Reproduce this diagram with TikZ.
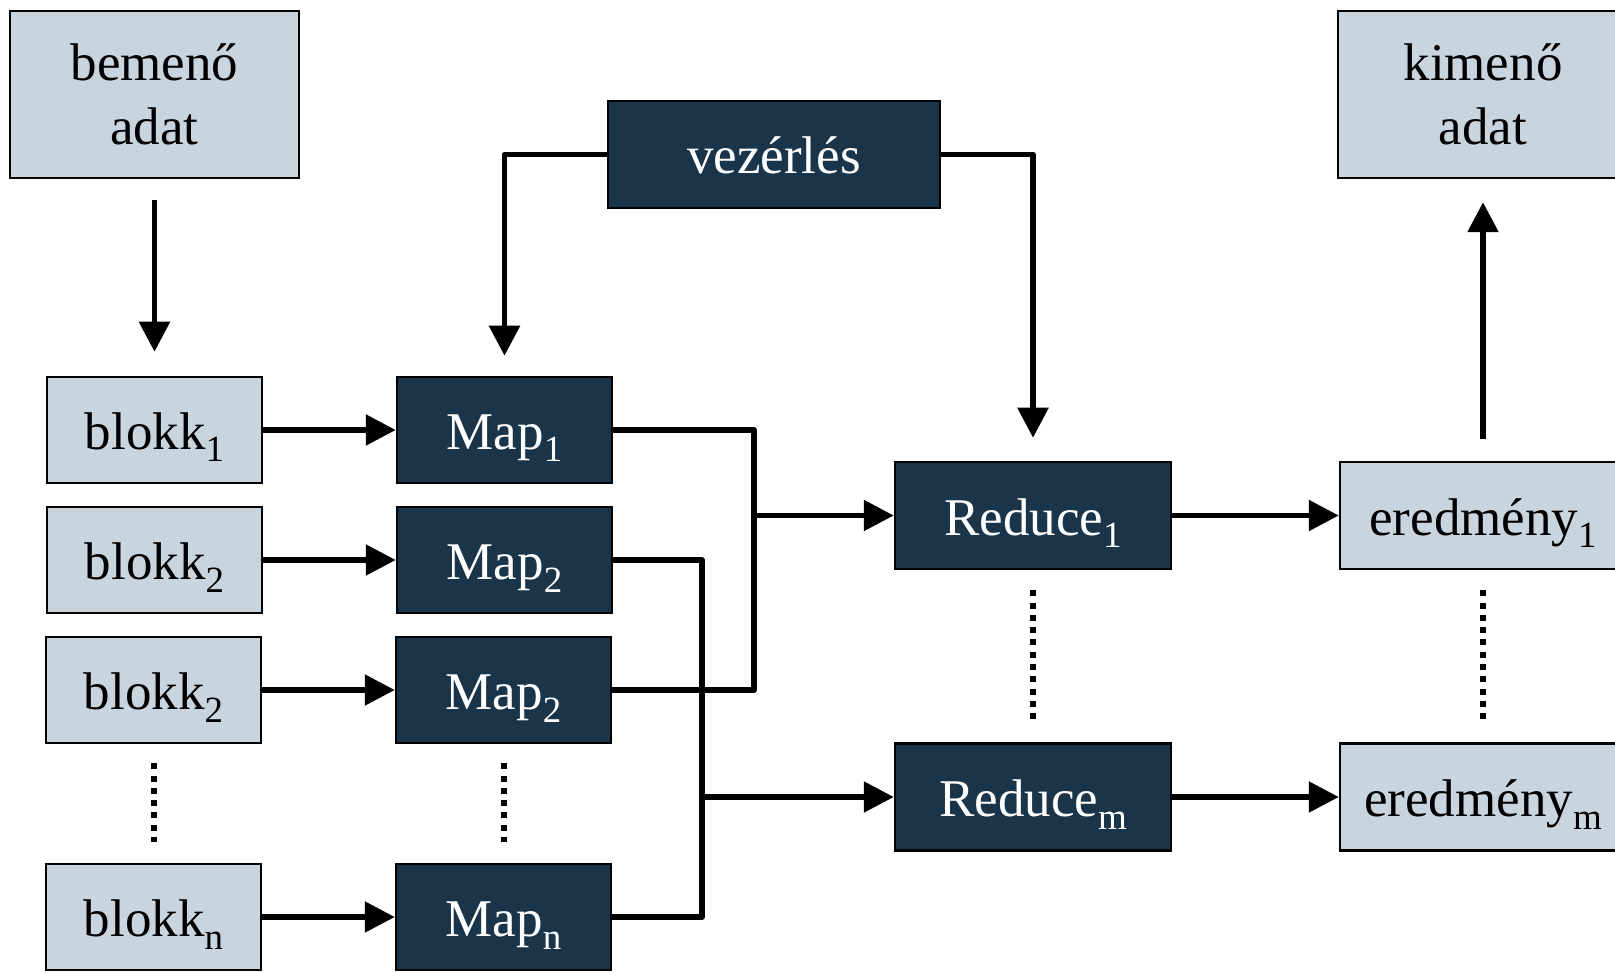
\documentclass[tikz,border=0pt]{standalone}
\usepackage{fontspec}
\setmainfont{Liberation Serif}
\usetikzlibrary{arrows.meta}
\definecolor{darkbox}{HTML}{1A3549}
\definecolor{lightbox}{HTML}{C8D5DE}
\newcommand{\sbs}[1]{\raisebox{-12.5pt}{\fontsize{37}{37}\selectfont #1}}
\tikzset{
  box/.style={draw=black, line width=2.5pt, inner sep=0pt, font=\fontsize{53}{64}\selectfont},
  oneline/.style={text height=39pt, text depth=0pt},
  lbox/.style={box, fill=lightbox, text=black},
  dbox/.style={box, fill=darkbox, text=white},
  smallbox/.style={minimum width=215pt, minimum height=106pt, oneline},
  redbox/.style={minimum width=276pt, minimum height=107pt, oneline},
  resbox/.style={minimum width=286pt, minimum height=107pt, oneline},
  bigbox/.style={minimum width=290pt, minimum height=167pt, align=center},
  arr/.style={line width=5.5pt, line join=round, -{Triangle[length=30pt,width=30pt]}},
  ln/.style={line width=5.5pt, line join=round},
  dots/.style={line width=6pt, dash pattern=on 6pt off 6.3pt}
}
\begin{document}
\begin{tikzpicture}[x=1pt,y=-1pt]
\clip (0,0) rectangle (1615,973);
\fill[white] (0,0) rectangle (1615,973);
% top row
\node[lbox, bigbox, minimum width=289pt] (bem) at (154.5,94.5) {bemenő\\adat};
\node[dbox, oneline, minimum width=332pt, minimum height=107pt] (vez) at (774,154.5) {vezérlés};
\node[lbox, bigbox] (kim) at (1483,94.5) {kimenő\\adat};
% blocks
\node[lbox, smallbox] (b1) at (154.5,430) {blokk\sbs{1}};
\node[lbox, smallbox] (b2) at (154.5,560) {blokk\sbs{2}};
\node[lbox, smallbox] (b3) at (153.5,690) {blokk\sbs{2}};
\node[lbox, smallbox] (bn) at (153.5,917) {blokk\sbs{n}};
% maps
\node[dbox, smallbox] (m1) at (504.5,430) {Map\sbs{1}};
\node[dbox, smallbox] (m2) at (504.5,560) {Map\sbs{2}};
\node[dbox, smallbox] (m3) at (503.5,690) {Map\sbs{2}};
\node[dbox, smallbox] (mn) at (503.5,917) {Map\sbs{n}};
% reduces
\node[dbox, redbox] (r1) at (1033,515.5) {Reduce\sbs{1}};
\node[dbox, redbox] (rm) at (1033,797) {Reduce\sbs{m}};
% results
\node[lbox, resbox] (e1) at (1483,515.5) {eredmény\sbs{1}};
\node[lbox, resbox] (em) at (1483,797) {eredmény\sbs{m}};
% bus junctions
\coordinate (j1) at (754,515.5);
\coordinate (j2) at (702,797);
% connectors
\draw[arr, shorten <=21pt, shorten >=24pt] (bem.south) -- (b1.north);
\draw[arr, shorten >=20pt] (vez.west) -| (m1.north);
\draw[arr, shorten >=23pt] (vez.east) -| (r1.north);
\draw[arr] (b1) -- (m1);
\draw[arr] (b2) -- (m2);
\draw[arr] (b3) -- (m3);
\draw[arr] (bn) -- (mn);
\draw[ln] (m1.east) -| (j1) |- (m3.east);
\draw[arr] (j1) -- (r1.west);
\draw[ln] (m2.east) -| (j2) |- (mn.east);
\draw[arr] (j2) -- (rm.west);
\draw[arr] (r1) -- (e1);
\draw[arr] (rm) -- (em);
\draw[arr, shorten <=22pt, shorten >=23pt] (e1.north) -- (kim.south);
% ellipses
\draw[dots, shorten <=19pt, shorten >=21pt] (b3.south) -- (bn.north);
\draw[dots, shorten <=19pt, shorten >=21pt] (m3.south) -- (mn.north);
\draw[dots, shorten <=20pt, shorten >=20pt] (r1.south) -- (rm.north);
\draw[dots, shorten <=20pt, shorten >=20pt] (e1.south) -- (em.north);
\end{tikzpicture}
\end{document}
